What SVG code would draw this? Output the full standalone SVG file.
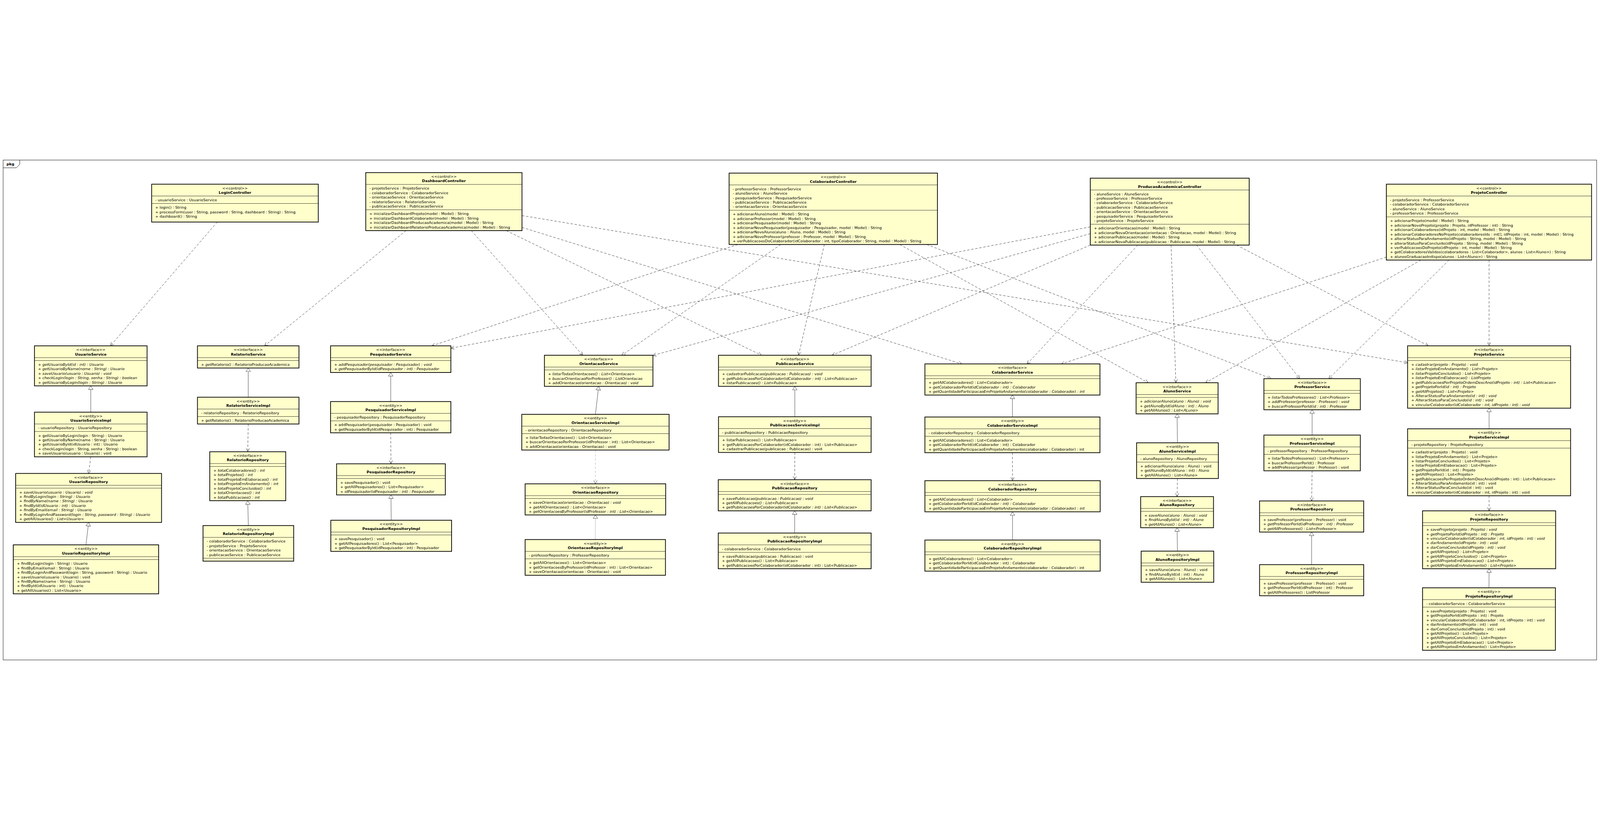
<svg xmlns="http://www.w3.org/2000/svg" width="6636" height="2098" viewBox="0 0 6636 2098" style="width:100vw;height:100vh;display:block">
<style>
text{font-family:"DejaVu Sans","Liberation Sans",sans-serif;font-size:15.5px;fill:#000}
.c{text-anchor:middle}
.b{font-weight:bold}
.i{font-style:italic}
.n rect{fill:#ffffcc;stroke:#000;stroke-width:3}
.s{stroke:#000;stroke-width:1.3;fill:none}
.dep{fill:none;stroke:#000;stroke-width:1.2;stroke-dasharray:10 7;marker-end:url(#arr)}
.real{fill:none;stroke:#000;stroke-width:1.2;marker-end:url(#tri)}
.g{stroke:#999}
</style>
<defs>
<marker id="arr" markerUnits="userSpaceOnUse" markerWidth="18" markerHeight="18" refX="15" refY="8" orient="auto"><path d="M1,1 L15,8 L1,15" fill="none" stroke="#000" stroke-width="1.2"/></marker>
<marker id="tri" markerUnits="userSpaceOnUse" markerWidth="20" markerHeight="22" refX="16" refY="10.5" orient="auto"><path d="M1,1 L16,10.5 L1,20 Z" fill="#fff" stroke="#000" stroke-width="1.2"/></marker>
</defs>
<rect width="6636" height="2098" fill="#fff"/>
<g id="frame">
<rect x="13" y="13" width="6609" height="2072" fill="none" stroke="#000" stroke-width="1.5"/>
<path d="M13,45 L68,45 L82,31 L82,13" fill="none" stroke="#000" stroke-width="1.5"/>
<text class="b" x="27" y="35">pkg</text>
</g>
<g id="connectors">
<path class="dep" d="M901,270 L458,783"/>
<path class="dep" d="M1684,305.5 L1097,783"/>
<path class="dep" d="M1955,305.5 L2417,822"/>
<path class="dep" d="M2100,305.5 L3158,822"/>
<path class="dep" d="M2165,292 L3989,858"/>
<path class="dep" d="M2165,243 L5838,853"/>
<path class="dep" d="M3060,363 L1791,783"/>
<path class="dep" d="M3238,363 L2579,822"/>
<path class="dep" d="M3419,363 L3312,822"/>
<path class="dep" d="M3732,363 L4762,936"/>
<path class="dep" d="M3844,363 L5272,919"/>
<path class="dep" d="M4522,290 L1870,793"/>
<path class="dep" d="M4522,318 L2708,823"/>
<path class="dep" d="M4522,365.5 L3451,822"/>
<path class="dep" d="M4719,365.5 L4260,858"/>
<path class="dep" d="M4857,365.5 L4877,936"/>
<path class="dep" d="M4963,365.5 L5390,919"/>
<path class="dep" d="M5129,365.5 L5924,783"/>
<path class="dep" d="M6176,427.5 L6176,783"/>
<path class="dep" d="M5750,415 L4402,858"/>
<path class="dep" d="M6010,427.5 L5511,919"/>
<path class="dep" d="M5893,427.5 L5000,936"/>
<path class="real" d="M376.5,1058 L376.5,949"/>
<path class="real" d="M356.5,1608 L367.5,1515"/>
<path class="real" d="M1029.5,996 L1029.5,875"/>
<path class="real" d="M1030,1528 L1027.5,1425"/>
<path class="real" d="M1620.5,1014 L1620.5,893.5"/>
<path class="real" d="M1622.5,1506 L1621.5,1401"/>
<path class="real" d="M2469.5,1067 L2483,951"/>
<path class="real g" d="M2469,1586 L2469.5,1484"/>
<path class="real" d="M3296.5,1077 L3296.5,951"/>
<path class="real" d="M3296,1559 L3296,1467"/>
<path class="real" d="M4199,1078 L4199,987"/>
<path class="real" d="M4199.5,1588 L4199.5,1471"/>
<path class="real" d="M4883.5,1185 L4882,1065"/>
<path class="real" d="M4883.5,1634 L4882,1537"/>
<path class="real" d="M5442,1153 L5442,1048"/>
<path class="real" d="M5440,1690 L5440,1555"/>
<path class="real" d="M6176,1127 L6176,1041.5"/>
<path class="real" d="M6175.5,1786 L6176,1707"/>
<path class="dep" d="M376.5,1243 L367.5,1312"/>
<path class="dep" d="M1029.5,1107 L1027.5,1222"/>
<path class="dep" d="M1620.5,1143.5 L1621.5,1272"/>
<path class="dep g" d="M2469.5,1215 L2469.5,1355"/>
<path class="dep" d="M3296.5,1225 L3296,1338"/>
<path class="dep" d="M4199,1226 L4199.5,1342"/>
<path class="dep" d="M4883.5,1333 L4882,1408"/>
<path class="dep" d="M5442,1301 L5440,1426"/>
<path class="dep" d="M6176,1404.5 L6176,1467"/>
</g>

<g id="LoginController" class="n" transform="translate(629,113)">
<rect width="691" height="157"/>
<path class="s" d="M0,49H691M0,80H691"/>
<text class="c" x="345.5" y="21.5">&lt;&lt;control&gt;&gt;</text>
<text class="c b" x="345.5" y="40">LoginController</text>
<text x="15" y="71">- usuarioService : UsuarioService</text>
<text x="15" y="102">+ login() : String</text>
<text x="15" y="120.5">+ processForm(user : String, password : String, dashboard : String) : String</text>
<text x="15" y="139">+ dashboard() : String</text>
</g>

<g id="DashboardController" class="n" transform="translate(1517,65)">
<rect width="648" height="240.5"/>
<path class="s" d="M0,49H648M0,154H648"/>
<text class="c" x="324" y="21.5">&lt;&lt;control&gt;&gt;</text>
<text class="c b" x="324" y="40">DashboardController</text>
<text x="15" y="71">- projetoService : ProjetoService</text>
<text x="15" y="89.5">- colaboradorService : ColaboradorService</text>
<text x="15" y="108">- orientacaoService : OrientacaoService</text>
<text x="15" y="126.5">- relatorioService : RelatorioService</text>
<text x="15" y="145">- publicacaoService : PublicacaoService</text>
<text x="15" y="176">+ inicializarDashboardProjeto(model : Model) : String</text>
<text x="15" y="194.5">+ inicializarDashboardColaborador(model : Model) : String</text>
<text x="15" y="213">+ inicializarDashboardProducaoAcademica(model : Model) : String</text>
<text x="15" y="231.5">+ inicializarDashboardRelatorioProducaoAcademica(model : Model) : String</text>
</g>

<g id="ColaboradorController" class="n" transform="translate(3024,67)">
<rect width="864" height="296"/>
<path class="s" d="M0,49H864M0,154H864"/>
<text class="c" x="432" y="21.5">&lt;&lt;control&gt;&gt;</text>
<text class="c b" x="432" y="40">ColaboradorController</text>
<text x="15" y="71">- professorService : ProfessorService</text>
<text x="15" y="89.5">- alunoService : AlunoService</text>
<text x="15" y="108">- pesquisadorService : PesquisadorService</text>
<text x="15" y="126.5">- publicacaoService : PublicacaoService</text>
<text x="15" y="145">- orientacaoService : OrientacaoService</text>
<text x="15" y="176">+ adicionarAluno(model : Model) : String</text>
<text x="15" y="194.5">+ adicionarProfessor(model : Model) : String</text>
<text x="15" y="213">+ adicionarPesquisador(model : Model) : String</text>
<text x="15" y="231.5">+ adicionarNovoPesquisador(pesquisador : Pesquisador, model : Model) : String</text>
<text x="15" y="250">+ adicionarNovoAluno(aluno : Aluno, model : Model) : String</text>
<text x="15" y="268.5">+ adicionarNovoProfessor(professor : Professor, model : Model) : String</text>
<text x="15" y="287">+ verPublicacoesDoColaborador(idColaborador : int, tipoColaborador : String, model : Model) : String</text>
</g>

<g id="ProducaoAcademicaController" class="n" transform="translate(4522,88)">
<rect width="659" height="277.5"/>
<path class="s" d="M0,49H659M0,191H659"/>
<text class="c" x="329.5" y="21.5">&lt;&lt;control&gt;&gt;</text>
<text class="c b" x="329.5" y="40">ProducaoAcademicaController</text>
<text x="15" y="71">- alunoService : AlunoService</text>
<text x="15" y="89.5">- professorService : ProfessorService</text>
<text x="15" y="108">- colaboradorService : ColaboradorService</text>
<text x="15" y="126.5">- publicacaoService : PublicacaoService</text>
<text x="15" y="145">- orientacaoService : OrientacaoService</text>
<text x="15" y="163.5">- pesquisadorService : PesquisadorService</text>
<text x="15" y="182">- projetoService : ProjetoService</text>
<text x="15" y="213">+ adicionarOrientacao(model : Model) : String</text>
<text x="15" y="231.5">+ adicionarNovaOrientacao(orientacao : Orientacao, model : Model) : String</text>
<text x="15" y="250">+ adicionarPublicacao(model : Model) : String</text>
<text x="15" y="268.5">+ adicionarNovaPublicacao(publicacao : Publicacao, model : Model) : String</text>
</g>

<g id="ProjetoController" class="n" transform="translate(5750,113)">
<rect width="851" height="314.5"/>
<path class="s" d="M0,49H851M0,135.5H851"/>
<text class="c" x="425.5" y="21.5">&lt;&lt;control&gt;&gt;</text>
<text class="c b" x="425.5" y="40">ProjetoController</text>
<text x="15" y="71">- projetoService : ProfessorService</text>
<text x="15" y="89.5">- colaboradorService : ColaboradorService</text>
<text x="15" y="108">- alunoService : AlunoService</text>
<text x="15" y="126.5">- professorService : ProfessorService</text>
<text x="15" y="157.5">+ adicionarProjeto(model : Model) : String</text>
<text x="15" y="176">+ adicionarNovoProjeto(projeto : Projeto, idProfessor : int) : String</text>
<text x="15" y="194.5">+ adicionarColaboradores(idProjeto : int, model : Model) : String</text>
<text x="15" y="213">+ adicionarColaboradoresNoProjeto(colaboradoresIds : int[], idProjeto : int, model : Model) : String</text>
<text x="15" y="231.5">+ alterarStatusParaAndamento(idProjeto : String, model : Model) : String</text>
<text x="15" y="250">+ alterarStatusParaConcluido(idProjeto : String, model : Model) : String</text>
<text x="15" y="268.5">+ verPublicacoesDoProjeto(idProjeto : int, model : Model) : String</text>
<text x="15" y="287">+ getColaboradoresValidos(colaboradores : List&lt;Colaborador&gt;, alunos : List&lt;Aluno&gt;) : String</text>
<text x="15" y="305.5">+ alunosGraduacaoIndispo(alunos : List&lt;Aluno&gt;) : String</text>
</g>

<g id="UsuarioService" class="n" transform="translate(143,783)">
<rect width="467" height="166"/>
<path class="s" d="M0,49H467M0,61H467"/>
<text class="c" x="233.5" y="21.5">&lt;&lt;interface&gt;&gt;</text>
<text class="c b" x="233.5" y="40">UsuarioService</text>
<text class="i" x="15" y="83">+ getUsuarioById(id : int) : Usuario</text>
<text class="i" x="15" y="101.5">+ getUsuarioByName(nome : String) : Usuario</text>
<text class="i" x="15" y="120">+ saveUsuario(usuario : Usuario) : void</text>
<text class="i" x="15" y="138.5">+ checkLogin(login : String, senha : String) : boolean</text>
<text class="i" x="15" y="157">+ getUsuarioByLogin(login : String) : Usuario</text>
</g>

<g id="UsuarioServiceImpl" class="n" transform="translate(143,1058)">
<rect width="467" height="185"/>
<path class="s" d="M0,49H467M0,80H467"/>
<text class="c" x="233.5" y="21.5">&lt;&lt;entity&gt;&gt;</text>
<text class="c b" x="233.5" y="40">UsuarioServiceImpl</text>
<text x="15" y="71">- usuarioRepository : UsuarioRepository</text>
<text x="15" y="102">+ getUsuarioByLogin(login : String) : Usuario</text>
<text x="15" y="120.5">+ getUsuarioByName(name : String) : Usuario</text>
<text x="15" y="139">+ getUsuarioById(idUsuario : int) : Usuario</text>
<text x="15" y="157.5">+ checkLogin(login : String, senha : String) : boolean</text>
<text x="15" y="176">+ saveUsuario(usuario : Usuario) : void</text>
</g>

<g id="UsuarioRepository" class="n" transform="translate(65,1312)">
<rect width="605" height="203"/>
<path class="s" d="M0,49H605M0,61H605"/>
<text class="c" x="302.5" y="21.5">&lt;&lt;interface&gt;&gt;</text>
<text class="c b" x="302.5" y="40">UsuarioRepository</text>
<text class="i" x="15" y="83">+ saveUsuario(usuario : Usuario) : void</text>
<text class="i" x="15" y="101.5">+ findByLogin(login : String) : Usuario</text>
<text class="i" x="15" y="120">+ findByName(name : String) : Usuario</text>
<text class="i" x="15" y="138.5">+ findById(idUsuario : int) : Usuario</text>
<text class="i" x="15" y="157">+ findByEmail(email : String) : Usuario</text>
<text class="i" x="15" y="175.5">+ findByLoginAndPassword(login : String, password : String) : Usuario</text>
<text class="i" x="15" y="194">+ getAllUsuarios() : List&lt;Usuario&gt;</text>
</g>

<g id="UsuarioRepositoryImpl" class="n" transform="translate(55,1608)">
<rect width="603" height="203"/>
<path class="s" d="M0,49H603M0,61H603"/>
<text class="c" x="301.5" y="21.5">&lt;&lt;entity&gt;&gt;</text>
<text class="c b" x="301.5" y="40">UsuarioRepositoryImpl</text>
<text x="15" y="83">+ findByLogin(login : String) : Usuario</text>
<text x="15" y="101.5">+ findByEmail(email : String) : Usuario</text>
<text x="15" y="120">+ findByLoginAndPassword(login : String, password : String) : Usuario</text>
<text x="15" y="138.5">+ saveUsuario(usuario : Usuario) : void</text>
<text x="15" y="157">+ findByName(name : String) : Usuario</text>
<text x="15" y="175.5">+ findById(idUsuario : int) : Usuario</text>
<text x="15" y="194">+ getAllUsuarios() : List&lt;Usuario&gt;</text>
</g>

<g id="RelatorioService" class="n" transform="translate(819,783)">
<rect width="421" height="92"/>
<path class="s" d="M0,49H421M0,61H421"/>
<text class="c" x="210.5" y="21.5">&lt;&lt;interface&gt;&gt;</text>
<text class="c b" x="210.5" y="40">RelatorioService</text>
<text class="i" x="15" y="83">+ getRelatorio() : RelatorioProducaoAcademica</text>
</g>

<g id="RelatorioServiceImpl" class="n" transform="translate(819,996)">
<rect width="421" height="111"/>
<path class="s" d="M0,49H421M0,80H421"/>
<text class="c" x="210.5" y="21.5">&lt;&lt;entity&gt;&gt;</text>
<text class="c b" x="210.5" y="40">RelatorioServiceImpl</text>
<text x="15" y="71">- relatorioRepository : RelatorioRepository</text>
<text x="15" y="102">+ getRelatorio() : RelatorioProducaoAcademica</text>
</g>

<g id="RelatorioRepository" class="n" transform="translate(870,1222)">
<rect width="315" height="203"/>
<path class="s" d="M0,49H315M0,61H315"/>
<text class="c" x="157.5" y="21.5">&lt;&lt;interface&gt;&gt;</text>
<text class="c b" x="157.5" y="40">RelatorioRepository</text>
<text class="i" x="15" y="83">+ totalColaboradores() : int</text>
<text class="i" x="15" y="101.5">+ totalProjetos() : int</text>
<text class="i" x="15" y="120">+ totalProjetoEmElaboracao() : int</text>
<text class="i" x="15" y="138.5">+ totalProjetoEmAndamento() : int</text>
<text class="i" x="15" y="157">+ totalProjetoConcluidos() : int</text>
<text class="i" x="15" y="175.5">+ totalOrientacoes() : int</text>
<text class="i" x="15" y="194">+ totalPublicacoes() : int</text>
</g>

<g id="RelatorioRepositoryImpl" class="n" transform="translate(842,1528)">
<rect width="376" height="147.5"/>
<path class="s" d="M0,49H376M0,135.5H376"/>
<text class="c" x="188" y="21.5">&lt;&lt;entity&gt;&gt;</text>
<text class="c b" x="188" y="40">RelatorioRepositoryImpl</text>
<text x="15" y="71">- colaboradorService : ColaboradorService</text>
<text x="15" y="89.5">- projetoService : ProjetoService</text>
<text x="15" y="108">- orientacaoService : OrientacaoService</text>
<text x="15" y="126.5">- publicacaoService : PublicacaoService</text>
</g>

<g id="PesquisadorService" class="n" transform="translate(1371,783)">
<rect width="499" height="110.5"/>
<path class="s" d="M0,49H499M0,61H499"/>
<text class="c" x="249.5" y="21.5">&lt;&lt;interface&gt;&gt;</text>
<text class="c b" x="249.5" y="40">PesquisadorService</text>
<text class="i" x="15" y="83">+ addPesquisador(pesquisador : Pesquisador) : void</text>
<text class="i" x="15" y="101.5">+ getPesquisadorById(idPesquisador : int) : Pesquisador</text>
</g>

<g id="PesquisadorServiceImpl" class="n" transform="translate(1371,1014)">
<rect width="499" height="129.5"/>
<path class="s" d="M0,49H499M0,80H499"/>
<text class="c" x="249.5" y="21.5">&lt;&lt;entity&gt;&gt;</text>
<text class="c b" x="249.5" y="40">PesquisadorServiceImpl</text>
<text x="15" y="71">- pesquisadorRepository : PesquisadorRepository</text>
<text x="15" y="102">+ addPesquisador(pesquisador : Pesquisador) : void</text>
<text x="15" y="120.5">+ getPesquisadorById(idPesquisador : int) : Pesquisador</text>
</g>

<g id="PesquisadorRepository" class="n" transform="translate(1396,1272)">
<rect width="451" height="129"/>
<path class="s" d="M0,49H451M0,61H451"/>
<text class="c" x="225.5" y="21.5">&lt;&lt;interface&gt;&gt;</text>
<text class="c b" x="225.5" y="40">PesquisadorRepository</text>
<text x="15" y="83">+ savePesquisador() : void</text>
<text x="15" y="101.5">+ getAllPesquisadores() : List&lt;Pesquisador&gt;</text>
<text class="i" x="15" y="120">+ idPesquisador(idPesquisador : int) : Pesquisador</text>
</g>

<g id="PesquisadorRepositoryImpl" class="n" transform="translate(1372,1506)">
<rect width="501" height="129"/>
<path class="s" d="M0,49H501M0,61H501"/>
<text class="c" x="250.5" y="21.5">&lt;&lt;entity&gt;&gt;</text>
<text class="c b" x="250.5" y="40">PesquisadorRepositoryImpl</text>
<text x="15" y="83">+ savePesquisador() : void</text>
<text x="15" y="101.5">+ getAllPesquisadores() : List&lt;Pesquisador&gt;</text>
<text x="15" y="120">+ getPesquisadorById(idPesquisador : int) : Pesquisador</text>
</g>

<g id="OrientacaoService" class="n" transform="translate(2258,822)">
<rect width="450" height="129"/>
<path class="s" d="M0,49H450M0,61H450"/>
<text class="c" x="225" y="21.5">&lt;&lt;interface&gt;&gt;</text>
<text class="c b" x="225" y="40">OrientacaoService</text>
<text class="i" x="15" y="83">+ listarTodasOrientacoes() : List&lt;Orientacao&gt;</text>
<text class="i" x="15" y="101.5">+ buscarOrientacaoPorProfessor() : ListOrientacao</text>
<text class="i" x="15" y="120">+ addOrientacao(orientacao : Orientacao) : void</text>
</g>

<g id="OrientacaoServiceImpl" class="n" transform="translate(2164,1067)">
<rect width="611" height="148"/>
<path class="s" d="M0,49H611M0,80H611"/>
<text class="c" x="305.5" y="21.5">&lt;&lt;entity&gt;&gt;</text>
<text class="c b" x="305.5" y="40">OrientacaoServiceImpl</text>
<text x="15" y="71">- orientacaoRepository : OrientacaoRepository</text>
<text x="15" y="102">+ listarTodasOrientacoes() : List&lt;Orientacao&gt;</text>
<text x="15" y="120.5">+ buscarOrientacaoPorProfessor(idProfessor : int) : List&lt;Orientacao&gt;</text>
<text x="15" y="139">+ addOrientacao(orientacao : Orientacao) : void</text>
</g>

<g id="OrientacaoRepository" class="n" transform="translate(2178,1355)">
<rect width="583" height="129"/>
<path class="s" d="M0,49H583M0,61H583"/>
<text class="c" x="291.5" y="21.5">&lt;&lt;interface&gt;&gt;</text>
<text class="c b" x="291.5" y="40">OrientacaoRepository</text>
<text class="i" x="15" y="83">+ saveOrientacao(orientacao : Orientacao) : void</text>
<text class="i" x="15" y="101.5">+ getAllOrientacoes() : List&lt;Orientacao&gt;</text>
<text class="i" x="15" y="120">+ getOrientacoesByProfessor(idProfessor : int) : List&lt;Orientacao&gt;</text>
</g>

<g id="OrientacaoRepositoryImpl" class="n" transform="translate(2178,1586)">
<rect width="582" height="148"/>
<path class="s" d="M0,49H582M0,80H582"/>
<text class="c" x="291" y="21.5">&lt;&lt;entity&gt;&gt;</text>
<text class="c b" x="291" y="40">OrientacaoRepositoryImpl</text>
<text x="15" y="71">- professorRepository : ProfessorRepository</text>
<text x="15" y="102">+ getAllOrientacoes() : List&lt;Orientacao&gt;</text>
<text x="15" y="120.5">+ getOrientacoesByProfessor(idProfessor : int) : List&lt;Orientacao&gt;</text>
<text x="15" y="139">+ saveOrientacao(orientacao : Orientacao) : void</text>
</g>

<g id="PublicacaoService" class="n" transform="translate(2980,822)">
<rect width="633" height="129"/>
<path class="s" d="M0,49H633M0,61H633"/>
<text class="c" x="316.5" y="21.5">&lt;&lt;interface&gt;&gt;</text>
<text class="c b" x="316.5" y="40">PublicacaoService</text>
<text class="i" x="15" y="83">+ cadastrarPublicacao(publicacao : Publicacao) : void</text>
<text class="i" x="15" y="101.5">+ getPublicacaosPorColaborador(idColaborador : int) : List&lt;Publicacao&gt;</text>
<text class="i" x="15" y="120">+ listarPublicacoes() : List&lt;Publicacao&gt;</text>
</g>

<g id="PublicacoesServiceImpl" class="n" transform="translate(2980,1077)">
<rect width="633" height="148"/>
<path class="s" d="M0,49H633M0,80H633"/>
<text class="c" x="316.5" y="21.5">&lt;&lt;entity&gt;&gt;</text>
<text class="c b" x="316.5" y="40">PublicacoesServiceImpl</text>
<text x="15" y="71">- publicacaoRepository : PublicacaoRepository</text>
<text x="15" y="102">+ listarPublicacoes() : List&lt;Publicacao&gt;</text>
<text x="15" y="120.5">+ getPublicacaosPorColaborador(idColaborador : int) : List&lt;Publicacao&gt;</text>
<text x="15" y="139">+ cadastrarPublicacao(publicacao : Publicacao) : void</text>
</g>

<g id="PublicacaoRepository" class="n" transform="translate(2979,1338)">
<rect width="634" height="129"/>
<path class="s" d="M0,49H634M0,61H634"/>
<text class="c" x="317" y="21.5">&lt;&lt;interface&gt;&gt;</text>
<text class="c b" x="317" y="40">PublicacaoRepository</text>
<text class="i" x="15" y="83">+ savePublicacao(publicacao : Publicacao) : void</text>
<text class="i" x="15" y="101.5">+ getAllPublicacoes() : List&lt;Publicacao&gt;</text>
<text class="i" x="15" y="120">+ getPublicacoesPorColaborador(idColaborador : int) : List&lt;Publicacao&gt;</text>
</g>

<g id="PublicacaoRepositoryImpl" class="n" transform="translate(2979,1559)">
<rect width="634" height="148"/>
<path class="s" d="M0,49H634M0,80H634"/>
<text class="c" x="317" y="21.5">&lt;&lt;entity&gt;&gt;</text>
<text class="c b" x="317" y="40">PublicacaoRepositoryImpl</text>
<text x="15" y="71">- colaboradorService : ColaboradorService</text>
<text x="15" y="102">+ savePublicacao(publicacao : Publicacao) : void</text>
<text x="15" y="120.5">+ getAllPublicacoes() : List&lt;Publicacao&gt;</text>
<text x="15" y="139">+ getPublicacoesPorColaborador(idColaborador : int) : List&lt;Publicacao&gt;</text>
</g>

<g id="ColaboradorService" class="n" transform="translate(3836,858)">
<rect width="726" height="129"/>
<path class="s" d="M0,49H726M0,61H726"/>
<text class="c" x="363" y="21.5">&lt;&lt;interface&gt;&gt;</text>
<text class="c b" x="363" y="40">ColaboradorService</text>
<text class="i" x="15" y="83">+ getAllColaboradores() : List&lt;Colaborador&gt;</text>
<text class="i" x="15" y="101.5">+ getColaboradorPorId(idColaborador : int) : Colaborador</text>
<text class="i" x="15" y="120">+ getQuantidadeParticipacaoEmProjetoAndamento(colaborador : Colaborador) : int</text>
</g>

<g id="ColaboradorServiceImpl" class="n" transform="translate(3836,1078)">
<rect width="726" height="148"/>
<path class="s" d="M0,49H726M0,80H726"/>
<text class="c" x="363" y="21.5">&lt;&lt;entity&gt;&gt;</text>
<text class="c b" x="363" y="40">ColaboradorServiceImpl</text>
<text x="15" y="71">- colaboradorRepository : ColaboradorRepository</text>
<text x="15" y="102">+ getAllColaboradores() : List&lt;Colaborador&gt;</text>
<text x="15" y="120.5">+ getColaboradorPorId(idColaborador : int) : Colaborador</text>
<text x="15" y="139">+ getQuantidadeParticipacaoEmProjetoAndamento(colaborador : Colaborador) : int</text>
</g>

<g id="ColaboradorRepository" class="n" transform="translate(3836,1342)">
<rect width="727" height="129"/>
<path class="s" d="M0,49H727M0,61H727"/>
<text class="c" x="363.5" y="21.5">&lt;&lt;interface&gt;&gt;</text>
<text class="c b" x="363.5" y="40">ColaboradorRepository</text>
<text class="i" x="15" y="83">+ getAllColaboradores() : List&lt;Colaborador&gt;</text>
<text class="i" x="15" y="101.5">+ getColaboradorPorId(idColaborador : int) : Colaborador</text>
<text class="i" x="15" y="120">+ getQuantidadeParticipacaoEmProjetoAndamento(colaborador : Colaborador) : int</text>
</g>

<g id="ColaboradorRepositoryImpl" class="n" transform="translate(3836,1588)">
<rect width="727" height="129"/>
<path class="s" d="M0,49H727M0,61H727"/>
<text class="c" x="363.5" y="21.5">&lt;&lt;entity&gt;&gt;</text>
<text class="c b" x="363.5" y="40">ColaboradorRepositoryImpl</text>
<text x="15" y="83">+ getAllColaboradores() : List&lt;Colaborador&gt;</text>
<text x="15" y="101.5">+ getColaboradorPorId(idColaborador : int) : Colaborador</text>
<text x="15" y="120">+ getQuantidadeParticipacaoEmProjetoAndamento(colaborador : Colaborador) : int</text>
</g>

<g id="AlunoService" class="n" transform="translate(4712,936)">
<rect width="340" height="129"/>
<path class="s" d="M0,49H340M0,61H340"/>
<text class="c" x="170" y="21.5">&lt;&lt;interface&gt;&gt;</text>
<text class="c b" x="170" y="40">AlunoService</text>
<text class="i" x="15" y="83">+ adicionarAluno(aluno : Aluno) : void</text>
<text class="i" x="15" y="101.5">+ getAlunoById(idAluno : int) : Aluno</text>
<text class="i" x="15" y="120">+ getAllAlunos() : List&lt;ALuno&gt;</text>
</g>

<g id="AlunoServiceImpl" class="n" transform="translate(4714,1185)">
<rect width="339" height="148"/>
<path class="s" d="M0,49H339M0,80H339"/>
<text class="c" x="169.5" y="21.5">&lt;&lt;entity&gt;&gt;</text>
<text class="c b" x="169.5" y="40">AlunoServiceImpl</text>
<text x="15" y="71">- alunoRepository : AlunoRepository</text>
<text x="15" y="102">+ adicionarAluno(aluno : Aluno) : void</text>
<text x="15" y="120.5">+ getAlunoById(idAluno : int) : Aluno</text>
<text x="15" y="139">+ getAllAlunos() : List&lt;Aluno&gt;</text>
</g>

<g id="AlunoRepository" class="n" transform="translate(4731,1408)">
<rect width="302" height="129"/>
<path class="s" d="M0,49H302M0,61H302"/>
<text class="c" x="151" y="21.5">&lt;&lt;interface&gt;&gt;</text>
<text class="c b" x="151" y="40">AlunoRepository</text>
<text class="i" x="15" y="83">+ saveAluno(aluno : Aluno) : void</text>
<text class="i" x="15" y="101.5">+ findAlunoById(id : int) : Aluno</text>
<text class="i" x="15" y="120">+ getAllAlunos() : List&lt;Aluno&gt;</text>
</g>

<g id="AlunoRepositoryImpl" class="n" transform="translate(4733,1634)">
<rect width="301" height="129"/>
<path class="s" d="M0,49H301M0,61H301"/>
<text class="c" x="150.5" y="21.5">&lt;&lt;entity&gt;&gt;</text>
<text class="c b" x="150.5" y="40">AlunoRepositoryImpl</text>
<text x="15" y="83">+ saveAluno(aluno : Aluno) : void</text>
<text x="15" y="101.5">+ findAlunoById(id : int) : Aluno</text>
<text x="15" y="120">+ getAllAlunos() : List&lt;Aluno&gt;</text>
</g>

<g id="ProfessorService" class="n" transform="translate(5242,919)">
<rect width="400" height="129"/>
<path class="s" d="M0,49H400M0,61H400"/>
<text class="c" x="200" y="21.5">&lt;&lt;interface&gt;&gt;</text>
<text class="c b" x="200" y="40">ProfessorService</text>
<text class="i" x="15" y="83">+ listarTodosProfessores() : List&lt;Professor&gt;</text>
<text class="i" x="15" y="101.5">+ addProfessor(professor : Professor) : void</text>
<text class="i" x="15" y="120">+ buscarProfessorPorId(id : int) : Professor</text>
</g>

<g id="ProfessorServiceImpl" class="n" transform="translate(5242,1153)">
<rect width="400" height="148"/>
<path class="s" d="M0,49H400M0,80H400"/>
<text class="c" x="200" y="21.5">&lt;&lt;entity&gt;&gt;</text>
<text class="c b" x="200" y="40">ProfessorServiceImpl</text>
<text x="15" y="71">- professorRepository : ProfessorRepository</text>
<text x="15" y="102">+ listarTodosProfessores() : List&lt;Professor&gt;</text>
<text x="15" y="120.5">+ buscarProfessorPorId() : Professor</text>
<text x="15" y="139">+ addProfessor(professor : Professor) : void</text>
</g>

<g id="ProfessorRepository" class="n" transform="translate(5224,1426)">
<rect width="432" height="129"/>
<path class="s" d="M0,49H432M0,61H432"/>
<text class="c" x="216" y="21.5">&lt;&lt;interface&gt;&gt;</text>
<text class="c b" x="216" y="40">ProfessorRepository</text>
<text x="15" y="83">+ saveProfessor(professor : Professor) : void</text>
<text class="i" x="15" y="101.5">+ getProfessorPorId(idProfessor : int) : Professor</text>
<text class="i" x="15" y="120">+ getAllProfessores() : List&lt;Professor&gt;</text>
</g>

<g id="ProfessorRepositoryImpl" class="n" transform="translate(5224,1690)">
<rect width="432" height="129"/>
<path class="s" d="M0,49H432M0,61H432"/>
<text class="c" x="216" y="21.5">&lt;&lt;entity&gt;&gt;</text>
<text class="c b" x="216" y="40">ProfessorRepositoryImpl</text>
<text x="15" y="83">+ saveProfessor(professor : Professor) : void</text>
<text x="15" y="101.5">+ getProfessorPorId(idProfessor : int) : Professor</text>
<text x="15" y="120">+ getAllProfessores() : ListProfessor</text>
</g>

<g id="ProjetoService" class="n" transform="translate(5838,783)">
<rect width="676" height="258.5"/>
<path class="s" d="M0,49H676M0,61H676"/>
<text class="c" x="338" y="21.5">&lt;&lt;interface&gt;&gt;</text>
<text class="c b" x="338" y="40">ProjetoService</text>
<text class="i" x="15" y="83">+ cadastrar(projeto : Projeto) : void</text>
<text class="i" x="15" y="101.5">+ listarProjetoEmAndamento() : List&lt;Projeto&gt;</text>
<text class="i" x="15" y="120">+ listarProjetoConcluidos() : List&lt;Projeto&gt;</text>
<text class="i" x="15" y="138.5">+ listarProjetoEmElaboracao() : ListProjeto</text>
<text class="i" x="15" y="157">+ getPublicacoesPorProjetoOrdemDescAno(idProjeto : int) : List&lt;Publicacao&gt;</text>
<text class="i" x="15" y="175.5">+ getProjetoPorId(id : int) : Projeto</text>
<text class="i" x="15" y="194">+ getAllProjetos() : List&lt;Projeto&gt;</text>
<text class="i" x="15" y="212.5">+ AlterarStatusParaAndamento(id : int) : void</text>
<text class="i" x="15" y="231">+ AlterarStatusParaConcluido(id : int) : void</text>
<text class="i" x="15" y="249.5">+ vincularColaborador(idColaborador : int, idProjeto : int) : void</text>
</g>

<g id="ProjetoServiceImpl" class="n" transform="translate(5838,1127)">
<rect width="676" height="277.5"/>
<path class="s" d="M0,49H676M0,80H676"/>
<text class="c" x="338" y="21.5">&lt;&lt;entity&gt;&gt;</text>
<text class="c b" x="338" y="40">ProjetoServiceImpl</text>
<text x="15" y="71">- projetoRepository : ProjetoRepository</text>
<text x="15" y="102">+ cadastrar(projeto : Projeto) : void</text>
<text x="15" y="120.5">+ listarProjetoEmAndamento() : List&lt;Projeto&gt;</text>
<text x="15" y="139">+ listarProjetoConcluidos() : List&lt;Projeto&gt;</text>
<text x="15" y="157.5">+ listarProjetoEmElaboracao() : List&lt;Projeto&gt;</text>
<text x="15" y="176">+ getProjetoPorId(id : int) : Projeto</text>
<text x="15" y="194.5">+ getAllProjetos() : List&lt;Projeto&gt;</text>
<text x="15" y="213">+ getPublicacoesPorProjetoOrdemDescAno(idProjeto : int) : List&lt;Publicacao&gt;</text>
<text x="15" y="231.5">+ AlterarStatusParaAndamento(id : int) : void</text>
<text x="15" y="250">+ AlterarStatusParaConcluido(id : int) : void</text>
<text x="15" y="268.5">+ vincularColaborador(idColaborador : int, idProjeto : int) : void</text>
</g>

<g id="ProjetoRepository" class="n" transform="translate(5900,1467)">
<rect width="552" height="240"/>
<path class="s" d="M0,49H552M0,61H552"/>
<text class="c" x="276" y="21.5">&lt;&lt;interface&gt;&gt;</text>
<text class="c b" x="276" y="40">ProjetoRepository</text>
<text class="i" x="15" y="83">+ saveProjeto(projeto : Projeto) : void</text>
<text class="i" x="15" y="101.5">+ getProjetoPorId(idProjeto : int) : Projeto</text>
<text class="i" x="15" y="120">+ vincularColaborador(idColaborador : int, idProjeto : int) : void</text>
<text class="i" x="15" y="138.5">+ darAndamento(idProjeto : int) : void</text>
<text class="i" x="15" y="157">+ darComoConcluido(idProjeto : int) : void</text>
<text class="i" x="15" y="175.5">+ getAllProjetos() : List&lt;Projeto&gt;</text>
<text class="i" x="15" y="194">+ getAllProjetoConcluidos() : List&lt;Projeto&gt;</text>
<text class="i" x="15" y="212.5">+ getAllProjetoEmElaboracao() : List&lt;Projeto&gt;</text>
<text class="i" x="15" y="231">+ getAllProjetosEmAndamento() : List&lt;Projeto&gt;</text>
</g>

<g id="ProjetoRepositoryImpl" class="n" transform="translate(5900,1786)">
<rect width="551" height="259"/>
<path class="s" d="M0,49H551M0,80H551"/>
<text class="c" x="275.5" y="21.5">&lt;&lt;entity&gt;&gt;</text>
<text class="c b" x="275.5" y="40">ProjetoRepositoryImpl</text>
<text x="15" y="71">- colaboradorService : ColaboradorService</text>
<text x="15" y="102">+ saveProjeto(projeto : Projeto) : void</text>
<text x="15" y="120.5">+ getProjetoPorId(idProjeto : int) : Projeto</text>
<text x="15" y="139">+ vincularColaborador(idColaborador : int, idProjeto : int) : void</text>
<text x="15" y="157.5">+ darAndamento(idProjeto : int) : void</text>
<text x="15" y="176">+ darComoConcluido(idProjeto : int) : void</text>
<text x="15" y="194.5">+ getAllProjetos() : List&lt;Projeto&gt;</text>
<text x="15" y="213">+ getAllProjetoConcluidos() : List&lt;Projeto&gt;</text>
<text x="15" y="231.5">+ getAllProjetoEmElaboracao() : List&lt;Projeto&gt;</text>
<text x="15" y="250">+ getAllProjetosEmAndamento() : List&lt;Projeto&gt;</text>
</g>
</svg>
